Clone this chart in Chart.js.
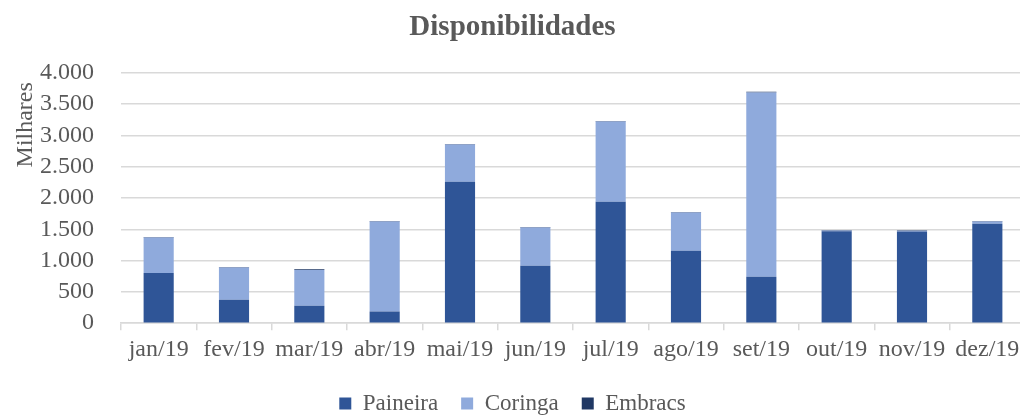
<!DOCTYPE html>
<html>
<head>
<meta charset="utf-8">
<script src="https://cdn.jsdelivr.net/npm/chart.js@4.4.1/dist/chart.umd.min.js"></script>
<style>
html,body{margin:0;padding:0;background:#fff;overflow:hidden;}
#wrap{width:1030px;height:415px;position:relative;}
</style>
</head>
<body>
<div id="wrap"><canvas id="c" width="1030" height="415"></canvas></div>
<script>
const categories = ['jan/19','fev/19','mar/19','abr/19','mai/19','jun/19','jul/19','ago/19','set/19','out/19','nov/19','dez/19'];
const paineira = [800, 373, 277, 187, 2260, 917, 1940, 1157, 741, 1467, 1465, 1589];
const coringa  = [568, 515, 572, 1437, 596, 611, 1282, 612, 2945, 12, 12, 35];
const embracs  = [10, 8, 12, 8, 8, 8, 10, 7, 10, 9, 8, 8];
const yTicks = [0, 500, 1000, 1500, 2000, 2500, 3000, 3500, 4000];
const yAxisTitle = 'Milhares';

const fmt = v => String(v).replace(/\B(?=(\d{3})+(?!\d))/g, '.');
const FONT = "'Liberation Serif', 'DejaVu Serif', serif";
const GREY = '#595959';

const yTitlePlugin = {
  id: 'yTitle',
  afterDraw(chart) {
    const ctx = chart.ctx;
    const a = chart.chartArea;
    ctx.save();
    ctx.translate(32, a.top + 52);
    ctx.rotate(-Math.PI / 2);
    ctx.font = "24px " + FONT;
    ctx.fillStyle = GREY;
    ctx.textAlign = 'center';
    ctx.textBaseline = 'alphabetic';
    ctx.fillText(yAxisTitle, 0, 0);
    ctx.restore();
  }
};

new Chart(document.getElementById('c'), {
  type: 'bar',
  data: {
    labels: categories,
    datasets: [
      {label: 'Paineira', data: paineira, backgroundColor: '#2F5597', barPercentage: 0.4, categoryPercentage: 1},
      {label: 'Coringa', data: coringa, backgroundColor: '#8FAADC', barPercentage: 0.4, categoryPercentage: 1},
      {label: 'Embracs', data: embracs, backgroundColor: '#203864', barPercentage: 0.4, categoryPercentage: 1}
    ]
  },
  plugins: [yTitlePlugin],
  options: {
    responsive: false,
    animation: false,
    layout: {padding: {left: 0, right: 5, top: 0, bottom: -10}},
    plugins: {
      title: {display: true, text: 'Disponibilidades', color: GREY,
        font: {family: FONT, size: 29, weight: 'bold'}, padding: {top: 10, bottom: 28}},
      legend: {position: 'bottom',
        labels: {color: GREY, font: {family: FONT, size: 23}, boxWidth: 12, boxHeight: 12, padding: 23}},
      tooltip: {enabled: false}
    },
    scales: {
      x: {
        stacked: true,
        offset: true,
        border: {display: true, color: '#d9d9d9', width: 1.5},
        grid: {display: true, drawOnChartArea: false, drawTicks: true, tickLength: 7, color: '#d9d9d9', lineWidth: 1.5, offset: true},
        ticks: {color: GREY, font: {family: FONT, size: 24}, padding: 5, maxRotation: 0, autoSkip: false}
      },
      y: {
        stacked: true,
        min: 0, max: 4000,
        afterBuildTicks: s => { s.ticks = yTicks.map(v => ({value: v})); },
        afterFit: s => { s.width = 121; },
        border: {display: false},
        grid: {color: '#d9d9d9', lineWidth: 1.5, drawTicks: false},
        ticks: {color: GREY, font: {family: FONT, size: 24}, padding: 27, autoSkip: false, callback: v => fmt(v)}
      }
    }
  }
});
</script>
</body>
</html>
